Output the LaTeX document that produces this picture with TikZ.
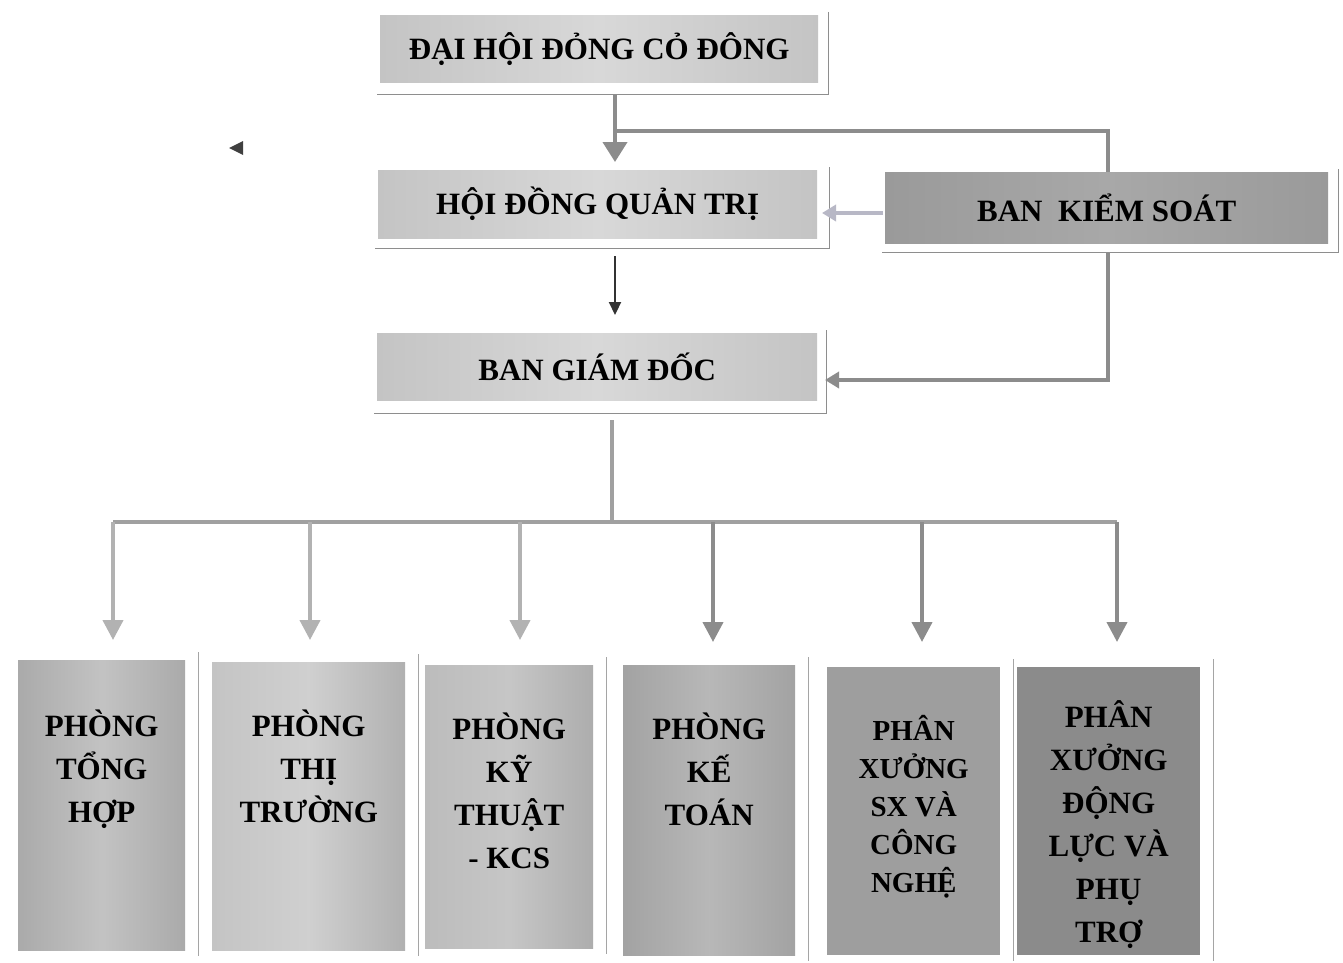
\documentclass[tikz,border=0pt]{standalone}
\usepackage{fontspec}
\setmainfont{Liberation Serif}
\usetikzlibrary{arrows.meta,calc}
\definecolor{boxA}{HTML}{C4C4C4}
\definecolor{boxAm}{HTML}{D8D8D8}
\definecolor{boxK}{HTML}{9A9A9A}
\definecolor{boxKm}{HTML}{A8A8A8}
\definecolor{shad}{HTML}{8E8E8E}
\definecolor{lineD}{HTML}{8C8C8C}
\definecolor{lineL}{HTML}{B2B2B2}
\definecolor{lineV}{HTML}{B8B8C6}
\definecolor{bb1}{HTML}{C8C8C8}
\definecolor{bb2}{HTML}{C4C4C4}
\definecolor{bb3}{HTML}{BCBCBC}
\definecolor{bb4}{HTML}{ABABAB}
\definecolor{bb5}{HTML}{9E9E9E}
\definecolor{bb6}{HTML}{8B8B8B}
\tikzset{
  topbox/.style={draw=none, inner sep=0pt, anchor=north west,
    left color=boxA, right color=boxA, middle color=boxAm,
    font=\bfseries\fontsize{31}{36}\selectfont, text=black},
  ksbox/.style={topbox, left color=boxK, right color=boxK, middle color=boxKm},
  botbox/.style={draw=none, inner sep=0pt, anchor=north west},
  bottext/.style={anchor=north, align=center, inner sep=0pt,
    font=\bfseries\fontsize{31}{43}\selectfont, text=black},
  shadowline/.style={draw=shad, line width=1.5pt},
  sepline/.style={draw=shad!80, line width=1pt},
  conn/.style={draw=lineD, line width=4pt},
  connL/.style={draw=lineL, line width=4pt},
}
\begin{document}
\begin{tikzpicture}[x=1pt,y=-1pt]
\useasboundingbox[fill=white] (0,0) rectangle (1343,963);

% ---- top boxes
\node[topbox, minimum width=438pt, minimum height=67pt] (dh) at (380,15) {ĐẠI HỘI ĐỎNG CỎ ĐÔNG};
\node[topbox, minimum width=439pt, minimum height=68pt] (hd) at (378,170) {HỘI ĐỒNG QUẢN TRỊ};
\node[ksbox, minimum width=443pt, minimum height=71pt] (ks) at (885,172) {BAN\ \ KIỂM SOÁT};
\node[topbox, minimum width=440pt, minimum height=67pt] (gd) at (377,333) {BAN GIÁM ĐỐC};

% shadow frames
\foreach \n/\dx/\dy in {dh/10/12, hd/12/10, ks/10/9, gd/9/13}{
  \draw[shadowline] ($(\n.north east)+(\dx,-3)$) -- ($(\n.south east)+(\dx,\dy)$) -- ($(\n.south west)+(-3,\dy)$);
}

% ---- stray mark
\fill[black!75] (229,148) -- (243,141) -- (243,155) -- cycle;

% ---- connectors in the upper part
\coordinate (dhs) at (615,95);
\coordinate (hdn) at (615,162);
\coordinate (jn) at (615,131);
\coordinate (kst) at (1108,131);
\draw[conn, -{Triangle[width=24pt,length=20pt]}] (dhs) -- (hdn);
\draw[conn] (jn) -- (kst) -- (kst |- ks.north);

\coordinate (ksw) at (883,213);
\coordinate (hde) at (822,213);
\draw[draw=lineV, line width=4pt, -{Triangle[width=16pt,length=14pt]}] (ksw) -- (hde);

\coordinate (ksb) at (1108,253);
\coordinate (ksc) at (1108,380);
\coordinate (gde) at (825,380);
\draw[conn, -{Triangle[width=16pt,length=14pt]}] (ksb) -- (ksc) -- (gde);

\coordinate (hds) at (615,256);
\coordinate (gdn) at (615,315);
\draw[draw=black!80, line width=2.2pt, -{Triangle[width=12pt,length=13pt]}] (hds) -- (gdn);

% ---- bus
\coordinate (gds) at (612,420);
\coordinate (bus) at (612,522);
\coordinate (d1) at (113,522);
\coordinate (d2) at (310,522);
\coordinate (d3) at (520,522);
\coordinate (d4) at (713,522);
\coordinate (d5) at (922,522);
\coordinate (d6) at (1117,522);
\draw[connL, draw=lineL!90!black] (gds) -- (bus);
\draw[connL, draw=lineL!90!black] (d1) -- (d6);

% ---- bottom boxes
\node[botbox, left color=bb1!85!black, right color=bb1!85!black, middle color=bb1!110!white, minimum width=167pt, minimum height=290pt] (b1) at (18,660) {};
\node[botbox, left color=bb2, right color=bb2!90!black, middle color=bb2!80!white, minimum width=193pt, minimum height=288pt] (b2) at (212,662) {};
\node[botbox, left color=bb3, right color=bb3!92!black, middle color=bb3!85!white, minimum width=168pt, minimum height=283pt] (b3) at (425,665) {};
\node[botbox, left color=bb4!95!black, right color=bb4!95!black, middle color=bb4!85!white, minimum width=172pt, minimum height=290pt] (b4) at (623,665) {};
\node[botbox, fill=bb5, minimum width=173pt, minimum height=288pt] (b5) at (827,667) {};
\node[botbox, fill=bb6, minimum width=183pt, minimum height=288pt] (b6) at (1017,667) {};

\foreach \n in {b1,b2,b3,b4,b5,b6}{
  \draw[sepline] ($(\n.north east)+(13,-8)$) -- ($(\n.south east)+(13,6)$);
}

\node[bottext] (t1) at ($(b1.north)+(0,50)$) {PHÒNG\\TỔNG\\HỢP};
\node[bottext] (t2) at ($(b2.north)+(0,48)$) {PHÒNG\\THỊ\\TRƯỜNG};
\node[bottext] (t3) at ($(b3.north)+(0,48)$) {PHÒNG\\KỸ\\THUẬT\\- KCS};
\node[bottext] (t4) at ($(b4.north)+(0,48)$) {PHÒNG\\KẾ\\TOÁN};
\node[bottext, font=\bfseries\fontsize{29}{38}\selectfont] (t5) at ($(b5.north)+(0,48)$) {PHÂN\\XƯỞNG\\SX VÀ\\CÔNG\\NGHỆ};
\node[bottext] (t6) at ($(b6.north)+(0,33)$) {PHÂN\\XƯỞNG\\ĐỘNG\\LỰC VÀ\\PHỤ\\TRỢ};

% ---- drops
\draw[connL, shorten >=20pt, -{Triangle[width=20pt,length=20pt]}] (d1) -- (d1 |- b1.north);
\draw[connL, shorten >=22pt, -{Triangle[width=20pt,length=20pt]}] (d2) -- (d2 |- b2.north);
\draw[connL, shorten >=25pt, -{Triangle[width=20pt,length=20pt]}] (d3) -- (d3 |- b3.north);
\draw[conn, shorten >=23pt, -{Triangle[width=20pt,length=20pt]}] (d4) -- (d4 |- b4.north);
\draw[conn, shorten >=25pt, -{Triangle[width=20pt,length=20pt]}] (d5) -- (d5 |- b5.north);
\draw[conn, shorten >=25pt, -{Triangle[width=20pt,length=20pt]}] (d6) -- (d6 |- b6.north);
\end{tikzpicture}
\end{document}
